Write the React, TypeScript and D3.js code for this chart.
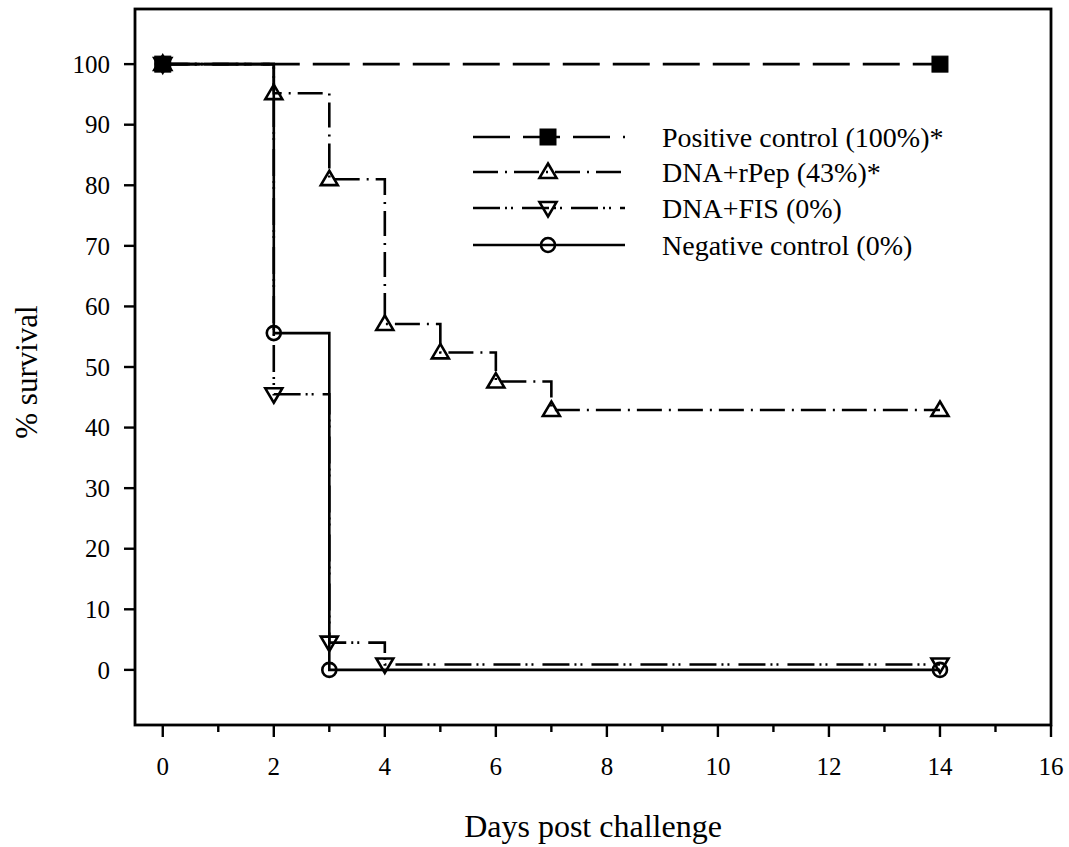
import React from "react";
import * as d3 from "d3";

const seriesNames = ["Positive control (100%)*", "DNA+rPep (43%)*", "DNA+FIS (0%)", "Negative control (0%)"];
const positiveDays = [0, 14];
const positiveVals = [100, 100];
const rpepDays = [0, 2, 3, 4, 5, 6, 7, 14];
const rpepVals = [100, 95.2, 81.0, 57.1, 52.4, 47.6, 42.9, 42.9];
const fisDays = [0, 2, 3, 4, 14];
const fisVals = [100, 45.5, 4.5, 0.9, 0.9];
const negDays = [0, 2, 3, 14];
const negVals = [100, 55.6, 0, 0];
const xTicks = [0, 2, 4, 6, 8, 10, 12, 14, 16];
const xMinorTicks = [1, 3, 5, 7, 9, 11, 13, 15];
const yTicks = [0, 10, 20, 30, 40, 50, 60, 70, 80, 90, 100];

const FONT = "'Liberation Serif', 'Times New Roman', serif";
const W = 1069, H = 847;
const L = 135, R = 1051, T = 9, B = 725;

const x = d3.scaleLinear().domain([-0.5, 16]).range([L, R]);
const y = d3.scaleLinear().domain([-9.1, 109.1]).range([B, T]);

type Pt = [number, number];
const zip = (a: number[], b: number[]): Pt[] => a.map((d, i) => [d, b[i]]);

const stepLine = d3.line<Pt>().x(d => x(d[0])).y(d => y(d[1])).curve(d3.curveStepAfter);

const series = [
  { name: seriesNames[0], pts: zip(positiveDays, positiveVals), dash: "37,13", marker: "square" },
  { name: seriesNames[1], pts: zip(rpepDays, rpepVals), dash: "25,7,2,7", marker: "triUp" },
  { name: seriesNames[2], pts: zip(fisDays, fisVals), dash: "27,5,2,4,2,9", marker: "triDown" },
  { name: seriesNames[3], pts: zip(negDays, negVals), dash: "", marker: "circle" },
];

const LW = 2.6;

function Marker({ kind, cx, cy }: { kind: string; cx: number; cy: number }) {
  const sw = 2.6;
  if (kind === "square") {
    return <rect x={cx - 8} y={cy - 8} width={16} height={16} fill="#000" stroke="#000" strokeWidth={1} />;
  }
  if (kind === "circle") {
    return <circle cx={cx} cy={cy} r={7} fill="none" stroke="#000" strokeWidth={sw} />;
  }
  if (kind === "triUp") {
    const s = 8.5;
    return <path d={`M${cx},${cy - s} L${cx + s},${cy + s * 0.7} L${cx - s},${cy + s * 0.7} Z`} fill="none" stroke="#000" strokeWidth={sw} />;
  }
  const s = 8.5;
  return <path d={`M${cx},${cy + s} L${cx + s},${cy - s * 0.7} L${cx - s},${cy - s * 0.7} Z`} fill="none" stroke="#000" strokeWidth={sw} />;
}

export default function App() {
  const legendRows = [137, 172, 208, 245];
  return (
    <svg width={W} height={H} style={{ position: "absolute", left: 0, top: 0, background: "#fff" }}>
      <rect x={0} y={0} width={W} height={H} fill="#fff" />
      {series.map((s, i) => (
        <g key={i}>
          <path d={stepLine(s.pts) || ""} fill="none" stroke="#000" strokeWidth={LW} strokeDasharray={s.dash || undefined} />
          {s.pts.map((p, j) => (
            <Marker key={j} kind={s.marker} cx={x(p[0])} cy={y(p[1])} />
          ))}
        </g>
      ))}
      <rect x={L} y={T} width={R - L} height={B - T} fill="none" stroke="#000" strokeWidth={2.8} />
      {yTicks.map(t => (
        <g key={"y" + t}>
          <line x1={L - 11} x2={L} y1={y(t)} y2={y(t)} stroke="#000" strokeWidth={2.4} />
          <text x={110} y={y(t)} dy="0.35em" textAnchor="end" fontFamily={FONT} fontSize={25}>{t}</text>
        </g>
      ))}
      {xTicks.map(t => (
        <g key={"x" + t}>
          <line x1={x(t)} x2={x(t)} y1={B} y2={B + 12} stroke="#000" strokeWidth={2.4} />
          <text x={x(t)} y={775} textAnchor="middle" fontFamily={FONT} fontSize={25}>{t}</text>
        </g>
      ))}
      {xMinorTicks.map(t => (
        <line key={"xm" + t} x1={x(t)} x2={x(t)} y1={B} y2={B + 7} stroke="#000" strokeWidth={2.4} />
      ))}
      <text x={(L + R) / 2} y={837} textAnchor="middle" fontFamily={FONT} fontSize={32}>Days post challenge</text>
      <text transform={`translate(37,${372}) rotate(-90)`} textAnchor="middle" fontFamily={FONT} fontSize={31}>% survival</text>
      {series.map((s, i) => (
        <g key={"lg" + i}>
          <line x1={473} x2={625} y1={legendRows[i]} y2={legendRows[i]} stroke="#000" strokeWidth={LW} strokeDasharray={s.dash || undefined} />
          <Marker kind={s.marker} cx={548} cy={legendRows[i]} />
          <text x={662} y={legendRows[i]} dy="0.35em" fontFamily={FONT} fontSize={28}>{s.name}</text>
        </g>
      ))}
    </svg>
  );
}
